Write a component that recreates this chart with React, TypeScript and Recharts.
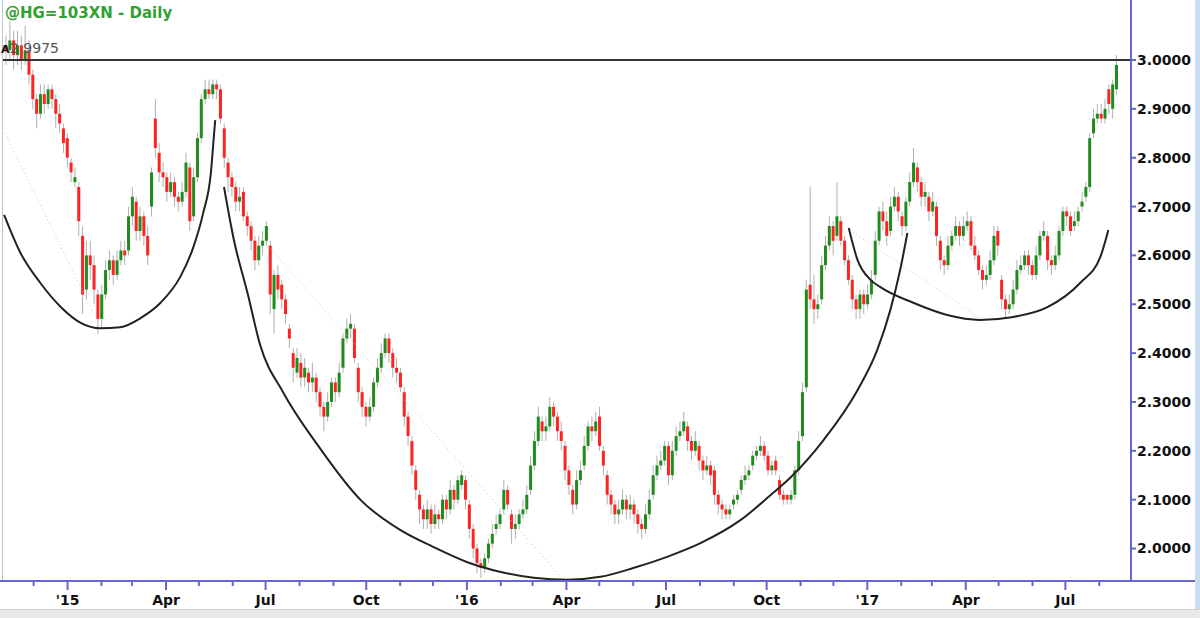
import { ComposedChart, Bar, Line, XAxis, YAxis, ReferenceLine } from 'recharts';

const DAY = 86400000;
const EPOCH = Date.UTC(2015, 0, 1);
const dayOf = (s: string) =>
  (Date.UTC(+s.slice(0, 4), +s.slice(5, 7) - 1, +s.slice(8, 10)) - EPOCH) / DAY;

// half-week candles, first one starts on this date
const firstCandle = '2014-11-04';
const candleSpan = 3.5;

const opens = [
  3.03, 3.02, 3.04, 3.01, 3.03, 3.0, 3.02, 2.97, 2.92, 2.89,
  2.93, 2.91, 2.94, 2.92, 2.89, 2.86, 2.84, 2.79, 2.75, 2.74,
  2.64, 2.53, 2.6, 2.58, 2.52, 2.47, 2.52, 2.57, 2.59, 2.56,
  2.59, 2.61, 2.61, 2.68, 2.71, 2.65, 2.68, 2.64, 2.7, 2.88,
  2.81, 2.77, 2.76, 2.73, 2.75, 2.72, 2.71, 2.73, 2.78, 2.68,
  2.76, 2.84, 2.92, 2.94, 2.93, 2.95, 2.94, 2.86, 2.79, 2.76,
  2.74, 2.71, 2.73, 2.68, 2.66, 2.63, 2.59, 2.62, 2.63, 2.62,
  2.49, 2.56, 2.54, 2.51, 2.45, 2.4, 2.36, 2.38, 2.35, 2.36,
  2.34, 2.35, 2.32, 2.29, 2.27, 2.3, 2.34, 2.32, 2.37, 2.43,
  2.45, 2.45, 2.37, 2.32, 2.29, 2.27, 2.29, 2.34, 2.37, 2.4,
  2.43, 2.4, 2.37, 2.36, 2.32, 2.27, 2.22, 2.16, 2.11, 2.08,
  2.06, 2.08, 2.05, 2.07, 2.06, 2.1, 2.08, 2.12, 2.1, 2.13,
  2.14, 2.09, 2.04, 2.0, 1.97, 1.96, 1.98, 2.01, 2.04, 2.05,
  2.08, 2.12, 2.07, 2.04, 2.05, 2.07, 2.08, 2.12, 2.17, 2.22,
  2.26, 2.24, 2.25, 2.29, 2.27, 2.24, 2.21, 2.16, 2.12, 2.09,
  2.14, 2.17, 2.21, 2.25, 2.24, 2.27, 2.2, 2.15, 2.11, 2.09,
  2.07, 2.08, 2.1, 2.08, 2.09, 2.07, 2.05, 2.04, 2.07, 2.11,
  2.15, 2.17, 2.18, 2.21, 2.15, 2.2, 2.23, 2.24, 2.25, 2.22,
  2.2, 2.21, 2.18, 2.16, 2.17, 2.16, 2.11, 2.09, 2.08, 2.07,
  2.09, 2.1, 2.12, 2.14, 2.15, 2.17, 2.19, 2.2, 2.21, 2.19,
  2.16, 2.18, 2.14, 2.11, 2.11, 2.1, 2.11, 2.16, 2.23, 2.33,
  2.54, 2.51, 2.49, 2.51, 2.58, 2.62, 2.66, 2.64, 2.67, 2.63,
  2.59, 2.55, 2.51, 2.49, 2.52, 2.5, 2.52, 2.56, 2.63, 2.69,
  2.67, 2.65, 2.7, 2.72, 2.68, 2.66, 2.71, 2.75, 2.78, 2.75,
  2.72, 2.72, 2.69, 2.7, 2.63, 2.59, 2.58, 2.62, 2.64, 2.66,
  2.64, 2.66, 2.67, 2.62, 2.6, 2.57, 2.55, 2.56, 2.59, 2.65,
  2.55, 2.51, 2.49, 2.5, 2.53, 2.57, 2.58, 2.6, 2.58, 2.56,
  2.6, 2.64, 2.64, 2.59, 2.58, 2.6, 2.65, 2.69, 2.68, 2.66,
  2.67, 2.7, 2.72, 2.74, 2.85, 2.88, 2.89, 2.88, 2.94, 2.9,
  2.94,
];

const closes = [
  3.02, 3.04, 3.01, 3.03, 3.0, 3.02, 2.97, 2.92, 2.89, 2.93,
  2.91, 2.94, 2.92, 2.89, 2.87, 2.83, 2.8, 2.77, 2.76, 2.67,
  2.52, 2.6, 2.58, 2.53, 2.47, 2.52, 2.57, 2.59, 2.56, 2.59,
  2.61, 2.6, 2.68, 2.72, 2.65, 2.68, 2.64, 2.6, 2.77, 2.82,
  2.77, 2.76, 2.73, 2.75, 2.72, 2.71, 2.73, 2.79, 2.67, 2.76,
  2.84, 2.92, 2.94, 2.93, 2.95, 2.94, 2.88, 2.8, 2.76, 2.74,
  2.71, 2.72, 2.68, 2.66, 2.63, 2.59, 2.62, 2.63, 2.66, 2.52,
  2.56, 2.53, 2.51, 2.48, 2.43, 2.37, 2.39, 2.35, 2.37, 2.34,
  2.35, 2.32, 2.29, 2.27, 2.3, 2.34, 2.32, 2.36, 2.43, 2.45,
  2.46, 2.39, 2.32, 2.29, 2.27, 2.29, 2.34, 2.37, 2.4, 2.43,
  2.4, 2.37, 2.36, 2.33, 2.27, 2.23, 2.17, 2.12, 2.08, 2.06,
  2.08, 2.05, 2.07, 2.06, 2.1, 2.08, 2.12, 2.1, 2.14, 2.15,
  2.1, 2.04, 2.0, 1.97, 1.96, 1.98, 2.01, 2.03, 2.05, 2.07,
  2.12, 2.09, 2.04, 2.05, 2.07, 2.08, 2.11, 2.17, 2.22, 2.27,
  2.24, 2.25, 2.29, 2.27, 2.24, 2.22, 2.16, 2.13, 2.09, 2.14,
  2.16, 2.21, 2.25, 2.24, 2.26, 2.21, 2.17, 2.11, 2.09, 2.07,
  2.08, 2.1, 2.08, 2.09, 2.07, 2.05, 2.04, 2.07, 2.1, 2.15,
  2.17, 2.18, 2.21, 2.15, 2.2, 2.23, 2.24, 2.26, 2.22, 2.2,
  2.22, 2.18, 2.16, 2.17, 2.15, 2.11, 2.09, 2.08, 2.07, 2.08,
  2.1, 2.11, 2.14, 2.15, 2.16, 2.19, 2.2, 2.21, 2.19, 2.16,
  2.17, 2.16, 2.11, 2.1, 2.1, 2.11, 2.16, 2.22, 2.32, 2.53,
  2.51, 2.49, 2.5, 2.58, 2.62, 2.66, 2.63, 2.68, 2.63, 2.59,
  2.55, 2.51, 2.49, 2.52, 2.5, 2.52, 2.55, 2.63, 2.69, 2.67,
  2.64, 2.7, 2.72, 2.69, 2.66, 2.71, 2.75, 2.79, 2.75, 2.72,
  2.73, 2.69, 2.71, 2.64, 2.59, 2.58, 2.62, 2.64, 2.66, 2.64,
  2.66, 2.67, 2.62, 2.6, 2.57, 2.55, 2.56, 2.59, 2.64, 2.62,
  2.51, 2.49, 2.5, 2.53, 2.57, 2.58, 2.6, 2.58, 2.56, 2.6,
  2.64, 2.65, 2.59, 2.58, 2.6, 2.65, 2.69, 2.68, 2.65, 2.67,
  2.69, 2.71, 2.74, 2.84, 2.88, 2.89, 2.88, 2.9, 2.91, 2.95,
  2.99,
];

const highs = [
  3.05, 3.08, 3.06, 3.06, 3.05, 3.07, 3.04, 2.98, 2.93, 2.95,
  2.95, 2.95, 2.95, 2.93, 2.91, 2.87, 2.85, 2.8, 2.78, 2.75,
  2.66, 2.63, 2.63, 2.6, 2.53, 2.54, 2.59, 2.61, 2.6, 2.61,
  2.63, 2.63, 2.7, 2.74, 2.72, 2.7, 2.69, 2.66, 2.78, 2.92,
  2.83, 2.79, 2.77, 2.77, 2.76, 2.73, 2.75, 2.81, 2.79, 2.78,
  2.85, 2.93, 2.96, 2.96, 2.96, 2.96, 2.95, 2.87, 2.8, 2.77,
  2.75, 2.74, 2.74, 2.69, 2.67, 2.64, 2.64, 2.65, 2.67, 2.63,
  2.57, 2.58, 2.55, 2.52, 2.46, 2.41, 2.41, 2.4, 2.39, 2.37,
  2.38, 2.36, 2.33, 2.3, 2.32, 2.35, 2.35, 2.38, 2.44, 2.47,
  2.48, 2.46, 2.38, 2.33, 2.3, 2.31, 2.35, 2.39, 2.42, 2.44,
  2.44, 2.41, 2.39, 2.37, 2.33, 2.28, 2.23, 2.17, 2.12, 2.09,
  2.1, 2.09, 2.09, 2.08, 2.11, 2.11, 2.14, 2.13, 2.15, 2.16,
  2.15, 2.1, 2.05, 2.01, 1.98, 1.99, 2.02, 2.05, 2.07, 2.08,
  2.14, 2.13, 2.08, 2.07, 2.08, 2.1, 2.13, 2.19, 2.24, 2.29,
  2.27, 2.27, 2.31, 2.3, 2.28, 2.26, 2.22, 2.17, 2.13, 2.16,
  2.18, 2.23, 2.26, 2.27, 2.28, 2.29, 2.21, 2.16, 2.12, 2.1,
  2.1, 2.12, 2.11, 2.11, 2.1, 2.08, 2.06, 2.09, 2.12, 2.17,
  2.19, 2.2, 2.22, 2.22, 2.22, 2.25, 2.26, 2.28, 2.26, 2.23,
  2.24, 2.22, 2.19, 2.19, 2.18, 2.17, 2.12, 2.1, 2.09, 2.09,
  2.11, 2.12, 2.15, 2.17, 2.17, 2.2, 2.21, 2.23, 2.22, 2.2,
  2.18, 2.19, 2.15, 2.12, 2.11, 2.12, 2.17, 2.24, 2.34, 2.55,
  2.74, 2.56, 2.52, 2.6, 2.64, 2.68, 2.67, 2.75, 2.68, 2.64,
  2.6, 2.56, 2.52, 2.53, 2.53, 2.54, 2.57, 2.65, 2.7, 2.71,
  2.69, 2.72, 2.74, 2.73, 2.69, 2.72, 2.77, 2.82, 2.79, 2.76,
  2.75, 2.73, 2.73, 2.71, 2.64, 2.6, 2.64, 2.65, 2.68, 2.67,
  2.68, 2.69, 2.68, 2.64, 2.61, 2.58, 2.58, 2.61, 2.66, 2.66,
  2.56, 2.52, 2.52, 2.55, 2.59, 2.6, 2.61, 2.61, 2.59, 2.62,
  2.65, 2.67, 2.65, 2.6, 2.62, 2.66, 2.7, 2.7, 2.69, 2.69,
  2.7, 2.73, 2.75, 2.85, 2.9, 2.91, 2.91, 2.92, 2.95, 2.96,
  3.01,
];

const lows = [
  2.99, 3.0, 2.98, 2.99, 2.98, 2.99, 2.95, 2.9, 2.86, 2.88,
  2.89, 2.9, 2.9, 2.86, 2.85, 2.81, 2.78, 2.75, 2.74, 2.64,
  2.48, 2.51, 2.55, 2.5, 2.44, 2.45, 2.51, 2.55, 2.54, 2.55,
  2.58, 2.58, 2.6, 2.66, 2.63, 2.63, 2.62, 2.58, 2.68, 2.8,
  2.75, 2.74, 2.71, 2.72, 2.7, 2.69, 2.7, 2.72, 2.65, 2.67,
  2.75, 2.83, 2.91, 2.92, 2.92, 2.92, 2.87, 2.78, 2.73, 2.72,
  2.69, 2.69, 2.67, 2.64, 2.61, 2.57, 2.58, 2.6, 2.62, 2.48,
  2.44, 2.51, 2.49, 2.46, 2.41, 2.34, 2.35, 2.33, 2.33, 2.32,
  2.32, 2.3, 2.27, 2.24, 2.26, 2.29, 2.3, 2.31, 2.36, 2.42,
  2.43, 2.38, 2.3, 2.27, 2.25, 2.26, 2.28, 2.33, 2.36, 2.39,
  2.38, 2.35, 2.34, 2.32, 2.25, 2.21, 2.15, 2.1, 2.05, 2.04,
  2.04, 2.03, 2.04, 2.04, 2.05, 2.06, 2.07, 2.08, 2.09, 2.12,
  2.08, 2.02, 1.98, 1.95, 1.94, 1.95, 1.97, 2.0, 2.03, 2.04,
  2.07, 2.08, 2.01, 2.02, 2.04, 2.06, 2.07, 2.11, 2.16, 2.21,
  2.22, 2.22, 2.24, 2.25, 2.22, 2.2, 2.14, 2.11, 2.07, 2.08,
  2.13, 2.16, 2.2, 2.22, 2.23, 2.2, 2.15, 2.09, 2.07, 2.05,
  2.05, 2.07, 2.06, 2.06, 2.05, 2.03, 2.02, 2.03, 2.06, 2.1,
  2.14, 2.16, 2.17, 2.13, 2.14, 2.19, 2.22, 2.23, 2.2, 2.18,
  2.19, 2.16, 2.14, 2.15, 2.13, 2.09, 2.07, 2.06, 2.06, 2.06,
  2.08, 2.09, 2.11, 2.13, 2.14, 2.16, 2.18, 2.19, 2.18, 2.15,
  2.15, 2.15, 2.1, 2.09, 2.09, 2.09, 2.1, 2.15, 2.22, 2.32,
  2.49, 2.46, 2.47, 2.5, 2.57, 2.61, 2.6, 2.63, 2.62, 2.58,
  2.54, 2.49, 2.47, 2.47, 2.48, 2.49, 2.51, 2.55, 2.62, 2.65,
  2.62, 2.64, 2.69, 2.67, 2.64, 2.65, 2.7, 2.74, 2.73, 2.7,
  2.7, 2.67, 2.68, 2.62, 2.57, 2.56, 2.57, 2.61, 2.63, 2.62,
  2.63, 2.65, 2.61, 2.59, 2.56, 2.53, 2.54, 2.55, 2.58, 2.6,
  2.49, 2.47, 2.48, 2.49, 2.52, 2.56, 2.57, 2.56, 2.55, 2.55,
  2.59, 2.63, 2.57, 2.56, 2.57, 2.59, 2.64, 2.66, 2.64, 2.65,
  2.66, 2.69, 2.71, 2.73, 2.84, 2.87, 2.87, 2.87, 2.89, 2.88,
  2.93,
];

// hand-drawn cup & handle curves, [date offset in days from 2015-01-01, price]
const leftCup = [
  [-58, 2.683], [-43, 2.605], [-25, 2.544], [-6, 2.494], [12, 2.462], [30, 2.451],
  [48, 2.453], [67, 2.472], [85, 2.503], [103, 2.556], [115, 2.617], [124, 2.687],
  [131, 2.769], [134, 2.851], [135, 2.877],
];
const bigCup = [
  [143, 2.74], [152, 2.632], [164.5, 2.523], [176, 2.417], [197, 2.32], [228.5, 2.212],
  [268, 2.099], [304, 2.038], [334.5, 2.003], [365.5, 1.972], [396, 1.952], [426, 1.94],
  [457, 1.936], [487, 1.942], [517, 1.96], [548, 1.983], [578.5, 2.011], [615, 2.058],
  [645, 2.114], [661, 2.146], [691, 2.222], [722, 2.324], [740, 2.406], [752, 2.488],
  [761, 2.57], [767.6, 2.646],
];
const handleCup = [
  [714, 2.656], [722, 2.591], [734, 2.55], [743, 2.535], [773, 2.503], [804, 2.478],
  [834, 2.468], [864.5, 2.474], [895.6, 2.494], [925.7, 2.544], [944, 2.597], [951.3, 2.652],
];
// faint dotted trend lines
const trendLines = [
  [[-57, 2.85], [24, 2.48]],
  [[158, 2.683], [450, 1.945]],
  [[715, 2.652], [834, 2.472]],
];

const priceTicks = [2.0, 2.1, 2.2, 2.3, 2.4, 2.5, 2.6, 2.7, 2.8, 2.9, 3.0];
const monthTicks = [
  '2014-12-01',
  '2015-01-01', '2015-02-01', '2015-03-01', '2015-04-01', '2015-05-01', '2015-06-01',
  '2015-07-01', '2015-08-01', '2015-09-01', '2015-10-01', '2015-11-01', '2015-12-01',
  '2016-01-01', '2016-02-01', '2016-03-01', '2016-04-01', '2016-05-01', '2016-06-01',
  '2016-07-01', '2016-08-01', '2016-09-01', '2016-10-01', '2016-11-01', '2016-12-01',
  '2017-01-01', '2017-02-01', '2017-03-01', '2017-04-01', '2017-05-01', '2017-06-01',
  '2017-07-01', '2017-08-01',
];
const monthLabels = ['', '', '', 'Apr', '', '', 'Jul', '', '', 'Oct', '', ''];
const resistance = 3.0;

const viewStart = '2014-11-03';
const viewEnd = '2017-08-30';
const priceMin = 1.9335;
const priceMax = 3.1228;

const AXIS = '#6666cc';
const FONT = '"DejaVu Sans", Verdana, sans-serif';

const candles = closes.map((c, i) => ({
  t: dayOf(firstCandle) + i * candleSpan + candleSpan / 2,
  o: opens[i],
  h: highs[i],
  l: lows[i],
  c,
  range: [lows[i], highs[i]],
}));

const toPoints = (arr: number[][]) => arr.map(([t, v]) => ({ t, v }));

function Candle(props: any) {
  const { x, y, width, height, payload } = props;
  if (!payload || x == null || y == null) return null;
  const top = Math.min(y, y + height);
  const h = Math.abs(height);
  const span = payload.h - payload.l || 1;
  const py = (v: number) => top + ((payload.h - v) / span) * h;
  const cx = x + width / 2;
  const bTop = py(Math.max(payload.o, payload.c));
  const bBot = py(Math.min(payload.o, payload.c));
  const up = payload.c >= payload.o;
  return (
    <g>
      <line x1={cx} x2={cx} y1={top} y2={top + h} stroke="#b0b0b0" strokeWidth={1} />
      <rect
        x={cx - 1.5}
        y={bTop}
        width={3}
        height={Math.max(1.5, bBot - bTop)}
        fill={up ? '#1e8c1e' : '#ff2222'}
      />
    </g>
  );
}

function MonthTick(props: any) {
  const { x, y, payload } = props;
  const d = new Date(EPOCH + payload.value * DAY);
  const m = d.getUTCMonth();
  const label = m === 0 ? "'" + String(d.getUTCFullYear()).slice(2) : monthLabels[m];
  return (
    <g>
      <line x1={x} x2={x} y1={y} y2={y + (m % 3 === 0 ? 9 : 5)} stroke={AXIS} strokeWidth={2} />
      {label && (
        <text x={x} y={y + 24} textAnchor="middle" fill="#111" fontSize={14} fontWeight="bold" fontFamily={FONT}>
          {label}
        </text>
      )}
    </g>
  );
}

export default function App() {
  return (
    <div style={{ position: 'absolute', left: 0, top: 0, width: 1200, height: 618, background: '#fff', overflow: 'hidden' }}>
      <ComposedChart
        width={1200}
        height={618}
        data={candles}
        margin={{ top: 0, right: 5, bottom: 8, left: 3 }}
      >
        <XAxis
          dataKey="t"
          type="number"
          domain={[dayOf(viewStart), dayOf(viewEnd)]}
          allowDataOverflow
          ticks={monthTicks.map(dayOf)}
          interval={0}
          tick={<MonthTick />}
          tickLine={false}
          tickSize={0}
          tickMargin={0}
          axisLine={{ stroke: AXIS, strokeWidth: 2 }}
          height={29}
        />
        <YAxis
          orientation="right"
          type="number"
          domain={[priceMin, priceMax]}
          allowDataOverflow
          ticks={priceTicks}
          interval={0}
          tickFormatter={(v: number) => v.toFixed(4)}
          width={64}
          axisLine={{ stroke: AXIS, strokeWidth: 2 }}
          tickLine={{ stroke: AXIS, strokeWidth: 2 }}
          tickSize={5}
          tickMargin={1}
          tick={{ fill: '#111', fontSize: 14, fontWeight: 'bold', fontFamily: FONT }}
        />
        {trendLines.map((seg, i) => (
          <ReferenceLine
            key={'tl' + i}
            segment={[{ x: seg[0][0], y: seg[0][1] }, { x: seg[1][0], y: seg[1][1] }]}
            stroke="#c4c4c4"
            strokeDasharray="1 3"
          />
        ))}
        <Bar dataKey="range" barSize={3} shape={(p: any) => <Candle {...p} />} isAnimationActive={false} />
        <Line data={toPoints(leftCup)} dataKey="v" type="monotone" dot={false} stroke="#222" strokeWidth={2} isAnimationActive={false} />
        <Line data={toPoints(bigCup)} dataKey="v" type="monotone" dot={false} stroke="#222" strokeWidth={2} isAnimationActive={false} />
        <Line data={toPoints(handleCup)} dataKey="v" type="monotone" dot={false} stroke="#222" strokeWidth={2} isAnimationActive={false} />
        <ReferenceLine y={resistance} stroke="#333" strokeWidth={2} />
      </ComposedChart>

      {/* frame pieces outside the plot */}
      <div style={{ position: 'absolute', left: 2, top: 0, width: 1, height: 581, background: '#b7c4da' }} />
      <div style={{ position: 'absolute', left: 1131, top: 580, width: 64, height: 2, background: AXIS }} />
      <div style={{ position: 'absolute', left: 0, top: 580, width: 3, height: 2, background: AXIS }} />
      <div style={{ position: 'absolute', left: 1195, top: 0, width: 5, height: 610, background: '#c9dcf0' }} />
      <div style={{ position: 'absolute', left: 0, top: 609, width: 1200, height: 9, background: '#e9e9e9', borderTop: '1px solid #d2d2d2' }} />

      <svg width={1200} height={618} style={{ position: 'absolute', left: 0, top: 0, pointerEvents: 'none' }}>
        <text x={5} y={18} fill="#33a033" fontSize={15} fontWeight="bold" fontFamily={FONT}>
          @HG=103XN - Daily
        </text>
        <text x={1} y={53} fill="#111" fontSize={11} fontWeight="bold" fontFamily={FONT}>
          A
        </text>
        <text x={10} y={53} fill="#555" fontSize={14} fontFamily={FONT}>
          2.9975
        </text>
      </svg>
    </div>
  );
}
